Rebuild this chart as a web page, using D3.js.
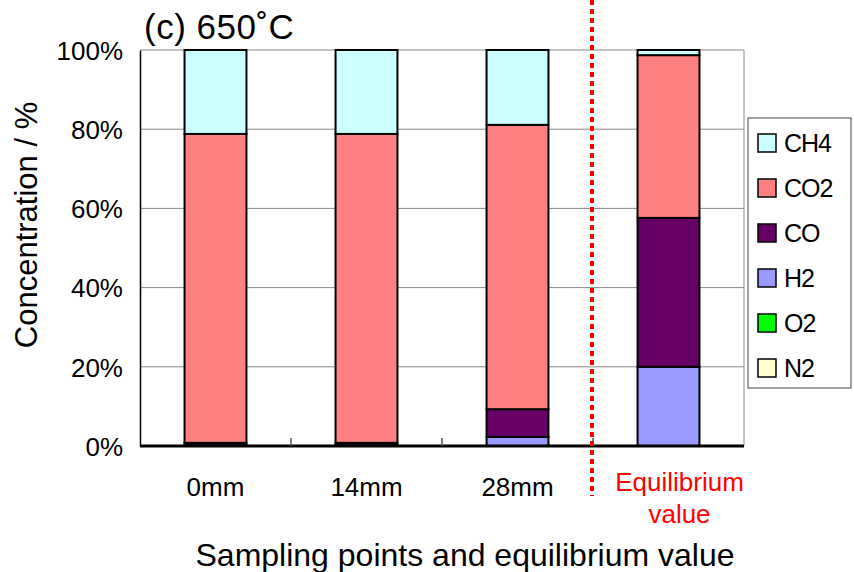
<!DOCTYPE html>
<html>
<head>
<meta charset="utf-8">
<script src="https://cdn.jsdelivr.net/npm/d3@7"></script>
<style>
  body { margin: 0; background: #fff; }
  text { font-family: "Liberation Sans", Arial, sans-serif; }
</style>
</head>
<body>
<div id="chart"></div>
<script>
// data
const categories = ["0mm", "14mm", "28mm", "Equilibrium value"];
const gases = ["N2", "O2", "H2", "CO", "CO2", "CH4"];
const colors = ["#ffffcc", "#00ff00", "#9999ff", "#660066", "#ff8080", "#ccffff"];
const N2 = [0, 0, 0, 0];
const O2 = [0, 0, 0, 0];
const H2 = [0.2, 0.2, 2.3, 20.0];
const CO = [0.6, 0.6, 7.0, 37.6];
const CO2 = [78.0, 78.0, 71.8, 41.1];
const CH4 = [21.2, 21.2, 18.9, 1.3];
const yTicks = [0, 20, 40, 60, 80, 100];

const series = { N2, O2, H2, CO, CO2, CH4 };
const rows = categories.map((c, i) => {
  const r = { category: c };
  gases.forEach((g) => (r[g] = series[g][i]));
  return r;
});

const width = 854;
const height = 572;
const marginLeft = 140;
const marginTop = 50;
const marginBottom = 126;
const chartWidth = 744 - marginLeft;
const chartHeight = height - marginTop - marginBottom;

const xScale = d3.scaleBand().domain(categories).range([0, chartWidth]);
const yScale = d3.scaleLinear().domain([0, 100]).range([chartHeight, 0]);

const svg = d3.select("#chart").append("svg")
  .attr("width", width)
  .attr("height", height);

const g = svg.append("g").attr("transform", `translate(${marginLeft}, ${marginTop})`);

// grid
g.append("g").selectAll("line")
  .data(yTicks.filter((d) => d > 0))
  .join("line")
  .attr("x1", 0).attr("x2", chartWidth)
  .attr("y1", (d) => yScale(d)).attr("y2", (d) => yScale(d))
  .attr("stroke", "#888").attr("stroke-width", 1);

// right frame
g.append("line")
  .attr("x1", chartWidth).attr("x2", chartWidth)
  .attr("y1", 0).attr("y2", chartHeight)
  .attr("stroke", "#888");

// stacked bars
const stack = d3.stack().keys(gases)(rows);
const barW = xScale.bandwidth() * 0.41;
g.append("g").selectAll("g")
  .data(stack)
  .join("g")
  .attr("fill", (d, i) => colors[i])
  .selectAll("rect")
  .data((d) => d.filter((p) => p[1] - p[0] > 0))
  .join("rect")
  .attr("x", (d) => xScale(d.data.category) + (xScale.bandwidth() - barW) / 2)
  .attr("width", barW)
  .attr("y", (d) => yScale(d[1]))
  .attr("height", (d) => yScale(d[0]) - yScale(d[1]))
  .attr("stroke", "#000")
  .attr("stroke-width", 2);

// y axis
const yAxis = d3.axisLeft(yScale).tickValues(yTicks).tickFormat((d) => d + "%").tickSizeInner(0).tickSizeOuter(0).tickPadding(17);
const ya = g.append("g").call(yAxis);
ya.select(".domain").attr("stroke", "#000").attr("stroke-width", 1.5);
ya.selectAll("text").attr("font-size", 26).attr("fill", "#000").attr("dy", "0.36em");

// x axis
const xa = g.append("g").attr("transform", `translate(0, ${chartHeight})`);
xa.append("line").attr("x1", 0).attr("x2", chartWidth).attr("stroke", "#000").attr("stroke-width", 3);
xa.selectAll(".tk")
  .data(categories.slice(1))
  .join("line")
  .attr("class", "tk")
  .attr("x1", (d) => xScale(d)).attr("x2", (d) => xScale(d))
  .attr("y1", 0).attr("y2", -8)
  .attr("stroke", "#555").attr("stroke-width", 1.5);

xa.selectAll(".lbl")
  .data(categories)
  .join("text")
  .attr("class", "lbl")
  .attr("x", (d) => xScale(d) + xScale.bandwidth() / 2)
  .attr("text-anchor", "middle")
  .attr("font-size", 26)
  .attr("fill", (d, i) => (i === 3 ? "#ff0000" : "#000"))
  .each(function (d, i) {
    const t = d3.select(this);
    const cx = xScale(d) + xScale.bandwidth() / 2;
    if (i === 3) {
      t.append("tspan").attr("x", cx + 11).attr("y", 45).text("Equilibrium");
      t.append("tspan").attr("x", cx + 11).attr("y", 77).text("value");
    } else {
      t.attr("y", 50).text(d);
    }
  });

// red dotted separator
g.append("line")
  .attr("x1", xScale(categories[3]) - 1).attr("x2", xScale(categories[3]) - 1)
  .attr("y1", -marginTop).attr("y2", chartHeight + 50)
  .attr("stroke", "#ff0000").attr("stroke-width", 4)
  .attr("stroke-dasharray", "5,4");

// titles
svg.append("text")
  .attr("x", 144).attr("y", 39)
  .attr("font-size", 35)
  .attr("letter-spacing", 0.5)
  .text("(c) 650˚C");

svg.append("text")
  .attr("x", 465).attr("y", 566)
  .attr("text-anchor", "middle")
  .attr("font-size", 32)
  .text("Sampling points and equilibrium value");

svg.append("text")
  .attr("transform", `translate(37, 225) rotate(-90)`)
  .attr("text-anchor", "middle")
  .attr("font-size", 31)
  .text("Concentration / %");

// legend
const legend = svg.append("g").attr("transform", "translate(748, 118)");
legend.append("rect")
  .attr("width", 103).attr("height", 270)
  .attr("fill", "#fff").attr("stroke", "#444").attr("stroke-width", 1);
const legendKeys = gases.slice().reverse();
const legendColors = colors.slice().reverse();
const li = legend.selectAll(".li")
  .data(legendKeys)
  .join("g")
  .attr("class", "li")
  .attr("transform", (d, i) => `translate(10, ${25 + i * 45})`);
li.append("rect")
  .attr("y", -9).attr("width", 18).attr("height", 18)
  .attr("fill", (d, i) => legendColors[i])
  .attr("stroke", "#000").attr("stroke-width", 1.5);
li.append("text")
  .attr("x", 26).attr("y", 9)
  .attr("font-size", 25)
  .attr("letter-spacing", -1)
  .text((d) => d);
</script>
</body>
</html>
